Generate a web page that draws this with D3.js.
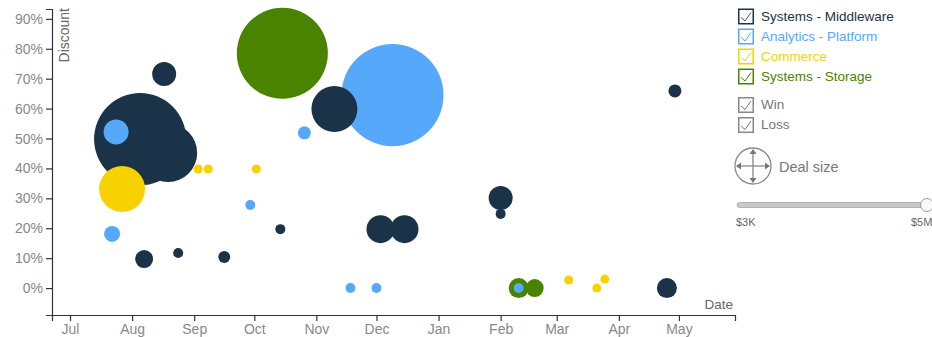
<!DOCTYPE html>
<html>
<head>
<meta charset="utf-8">
<script src="https://cdn.jsdelivr.net/npm/d3@7"></script>
<style>
  html, body { margin: 0; padding: 0; background: #fff; }
  svg { display: block; font-family: "Liberation Sans", Arial, Helvetica, sans-serif; }
  .axis path, .axis line { stroke: #333; stroke-width: 1.2; }
  .axis text { fill: #888; font-size: 14px; }
</style>
</head>
<body>
<svg id="chart" width="932" height="337"></svg>
<script>
// Product lines and their colours
const categories = ["Systems - Middleware", "Analytics - Platform", "Commerce", "Systems - Storage"];
const colors = ["#1a3349", "#56a8fb", "#f8d100", "#4a8300"];
const outcomes = ["Win", "Loss"];

// Deals per product line: close date, discount, deal size (USD)
const middlewareDates = ["2013-08-05", "2013-08-19", "2013-08-17", "2013-08-07", "2013-08-24", "2013-09-16", "2013-10-14",
  "2013-11-10", "2013-12-03", "2013-12-15", "2014-02-01", "2014-02-01", "2014-04-25", "2014-04-29"];
const middlewareDiscounts = [0.498, 0.452, 0.716, 0.097, 0.117, 0.104, 0.197, 0.599, 0.197, 0.197, 0.301, 0.248, 0.0, 0.659];
const middlewareSizes = [3150000, 1250000, 214000, 120000, 37000, 53000, 37000, 786000, 291000, 291000, 214000, 37000, 149000, 63000];

const analyticsDates = ["2013-07-24", "2013-07-22", "2013-09-29", "2013-10-26", "2013-11-18", "2013-12-01", "2013-12-09", "2014-02-10"];
const analyticsDiscounts = [0.522, 0.181, 0.278, 0.519, 0.0, 0.0, 0.645, 0.0];
const analyticsSizes = [232000, 95000, 37000, 63000, 37000, 37000, 3870000, 37000];

const commerceDates = ["2013-07-27", "2013-09-03", "2013-09-08", "2013-10-02", "2014-03-07", "2014-03-21", "2014-03-25"];
const commerceDiscounts = [0.331, 0.398, 0.398, 0.398, 0.027, 0.0, 0.030];
const commerceSizes = [786000, 30000, 30000, 30000, 30000, 30000, 30000];

const storageDates = ["2013-10-15", "2014-02-10", "2014-02-18"];
const storageDiscounts = [0.785, 0.0, 0.0];
const storageSizes = [3080000, 149000, 120000];

// Axis ticks and ranges
const discountTicks = [0, 0.1, 0.2, 0.3, 0.4, 0.5, 0.6, 0.7, 0.8, 0.9];
const dateDomain = ["2013-06-22", "2014-05-29"];
const discountDomain = [-0.09, 0.933];
const sizeDomain = [0, 5000000];
const sizeSliderLabels = ["$3K", "$5M"];

const parse = d3.timeParse("%Y-%m-%d");

const seriesDates = [middlewareDates, analyticsDates, commerceDates, storageDates];
const seriesDiscounts = [middlewareDiscounts, analyticsDiscounts, commerceDiscounts, storageDiscounts];
const seriesSizes = [middlewareSizes, analyticsSizes, commerceSizes, storageSizes];

const deals = [];
categories.forEach((cat, i) => {
  seriesDates[i].forEach((d, j) => {
    deals.push({ category: cat, color: colors[i], date: parse(d), discount: seriesDiscounts[i][j], size: seriesSizes[i][j] });
  });
});

const svg = d3.select("#chart");
const plot = { left: 52, right: 735, top: 9, bottom: 315 };

const x = d3.scaleTime().domain(dateDomain.map(parse)).range([plot.left, plot.right]);
const y = d3.scaleLinear().domain(discountDomain).range([plot.bottom, plot.top]);
const r = d3.scaleSqrt().domain(sizeDomain).range([0, 58]);

// Bubbles, biggest first so small deals stay visible on top
svg.append("g")
  .selectAll("circle")
  .data(deals.slice().sort((a, b) => b.size - a.size))
  .join("circle")
  .attr("cx", d => x(d.date))
  .attr("cy", d => y(d.discount))
  .attr("r", d => r(d.size))
  .attr("fill", d => d.color);

// Axes
svg.append("g")
  .attr("class", "axis")
  .attr("transform", `translate(0,${plot.bottom})`)
  .call(d3.axisBottom(x).ticks(d3.timeMonth.every(1)).tickFormat(d3.timeFormat("%b")));

svg.append("g")
  .attr("class", "axis")
  .attr("transform", `translate(${plot.left},0)`)
  .call(d3.axisLeft(y).tickValues(discountTicks).tickFormat(d3.format(".0%")));

svg.selectAll(".axis .domain").attr("fill", "none");

svg.append("text")
  .attr("transform", `translate(${plot.left + 17},${plot.top - 1}) rotate(-90)`)
  .attr("text-anchor", "end")
  .attr("fill", "#666")
  .attr("font-size", 14)
  .text("Discount");

svg.append("text")
  .attr("x", plot.right - 2)
  .attr("y", plot.bottom - 6)
  .attr("text-anchor", "end")
  .attr("fill", "#666")
  .attr("font-size", 13.5)
  .text("Date");

// Legend with checkboxes
const legendX = 738;
const checkPath = "M3,9 L7,12.5 L13,4";

function checkbox(g, color, checkColor) {
  g.append("rect")
    .attr("x", 0.75).attr("y", 0.75)
    .attr("width", 14.5).attr("height", 14.5)
    .attr("fill", "#fff")
    .attr("stroke", color)
    .attr("stroke-width", 1.5);
  g.append("path")
    .attr("d", checkPath)
    .attr("fill", "none")
    .attr("stroke", checkColor)
    .attr("stroke-width", 1);
}

const catLegend = svg.append("g").attr("transform", `translate(${legendX},0)`);
categories.forEach((cat, i) => {
  const row = catLegend.append("g").attr("transform", `translate(0,${8.5 + i * 20})`);
  checkbox(row, colors[i], i === 0 ? "#555" : colors[i]);
  row.append("text")
    .attr("x", 23).attr("y", 7.5)
    .attr("dy", "0.35em")
    .attr("fill", colors[i])
    .attr("font-size", 13.5)
    .text(cat);
});

outcomes.forEach((o, i) => {
  const row = catLegend.append("g").attr("transform", `translate(0,${97 + i * 20})`);
  checkbox(row, "#888", "#777");
  row.append("text")
    .attr("x", 23).attr("y", 7.5)
    .attr("dy", "0.35em")
    .attr("fill", "#777")
    .attr("font-size", 13.5)
    .text(o);
});

// Deal size icon
const icon = svg.append("g").attr("transform", "translate(753,166)");
icon.append("circle").attr("r", 18).attr("fill", "#fff").attr("stroke", "#888").attr("stroke-width", 1.3);
icon.append("line").attr("x1", 0).attr("y1", -14).attr("x2", 0).attr("y2", 14).attr("stroke", "#888").attr("stroke-width", 1.3);
icon.append("line").attr("x1", -14).attr("y1", 0).attr("x2", 14).attr("y2", 0).attr("stroke", "#888").attr("stroke-width", 1.3);
[[0, -17, 0], [0, 17, 180], [-17, 0, -90], [17, 0, 90]].forEach(([ax, ay, rot]) => {
  icon.append("path")
    .attr("d", "M0,0 L-3.5,5 L3.5,5 Z")
    .attr("transform", `translate(${ax},${ay}) rotate(${rot})`)
    .attr("fill", "#777");
});
svg.append("text")
  .attr("x", 779).attr("y", 167)
  .attr("dy", "0.35em")
  .attr("fill", "#777")
  .attr("font-size", 14.5)
  .text("Deal size");

// Deal size slider
const slider = svg.append("g").attr("transform", "translate(737,205)");
slider.append("rect")
  .attr("x", 0).attr("y", -2.5)
  .attr("width", 190).attr("height", 5)
  .attr("rx", 2.5)
  .attr("fill", "#c8c8c8")
  .attr("stroke", "#a8a8a8")
  .attr("stroke-width", 0.8);
slider.append("circle")
  .attr("cx", 190).attr("cy", 0).attr("r", 6.5)
  .attr("fill", "#fafafa")
  .attr("stroke", "#999")
  .attr("stroke-width", 1);
slider.append("text")
  .attr("x", -1).attr("y", 17)
  .attr("dy", "0.35em")
  .attr("fill", "#666")
  .attr("font-size", 11)
  .text(sizeSliderLabels[0]);
slider.append("text")
  .attr("x", 174).attr("y", 17)
  .attr("dy", "0.35em")
  .attr("fill", "#666")
  .attr("font-size", 11)
  .text(sizeSliderLabels[1]);
</script>
</body>
</html>
